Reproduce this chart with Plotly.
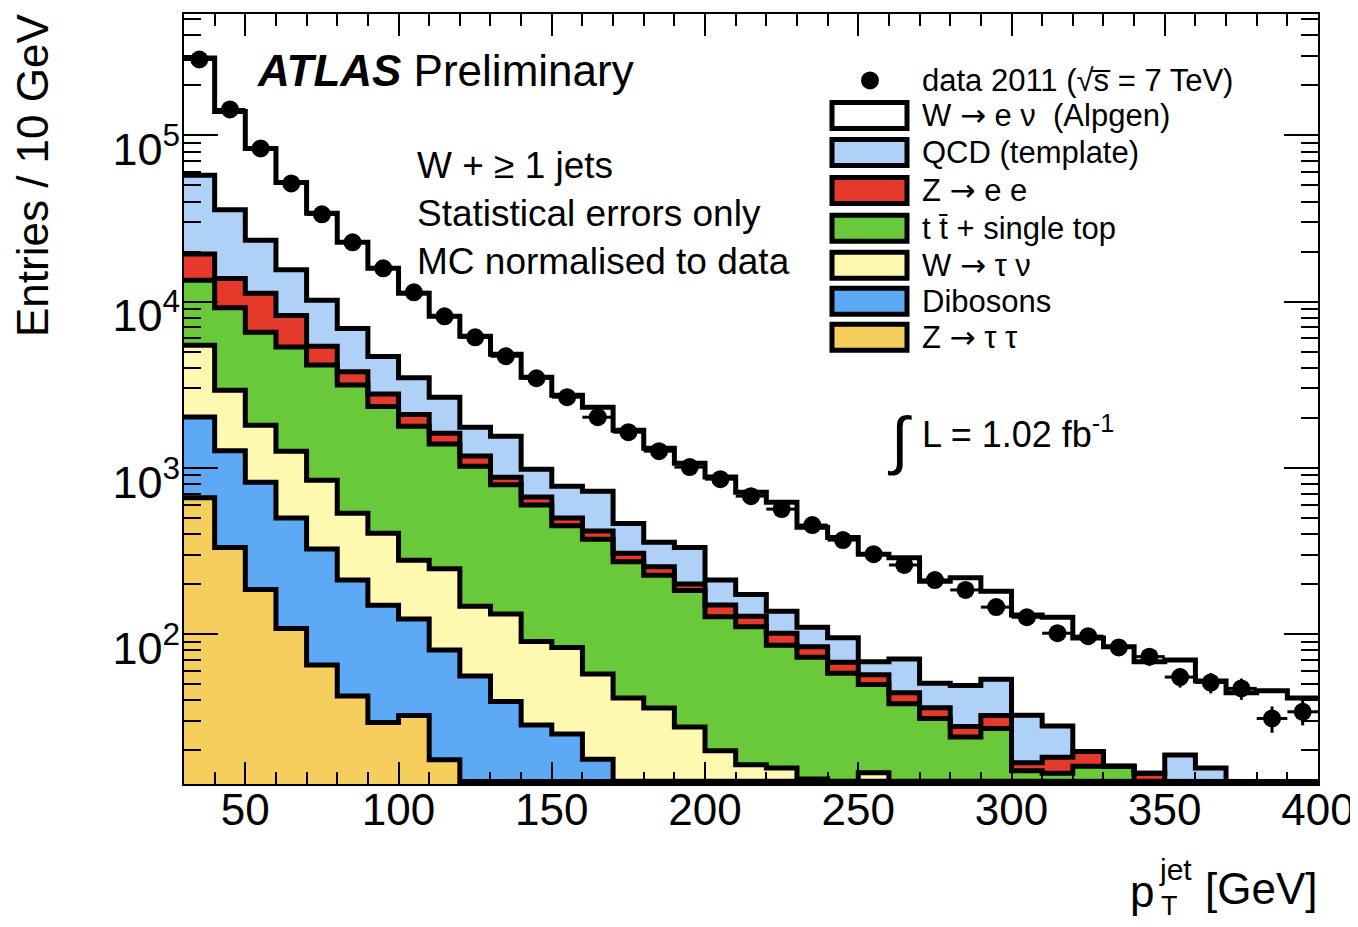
import numpy as np
import plotly.graph_objects as go

# ---------------- data ----------------
bin_edges = list(range(30, 401, 10))          # p_T^jet bin edges [GeV]

z_tautau = [661, 331, 185, 108, 65, 42.3, 29.3, 32.3, 17.5, 10, 8, 6, 5, 4, 3, 2, 2, 1, 1, 1,
            0.5, 0.5, 0.5, 0.5, 0.3, 0.3, 0.3, 0.3, 0.3, 0.3, 0.3, 0.3, 0.2, 0.2, 0.2, 0.2, 0.2]
dibosons = [1362, 936, 634, 390, 259, 168.7, 119.7, 90.7, 62.5, 45.8, 31.2, 22.3, 20, 13.6, 10, 8, 6, 5,
            4, 3, 2.5, 2, 1.5, 1.5, 1.2, 1.2, 1.2, 0.9, 0.9, 0.9, 0.7, 0.7, 0.8, 0.8, 0.6, 0.6, 0.6]
w_taunu = [3437, 1663, 985, 761, 518, 322, 255, 155, 167, 91.2, 92.6, 61.7, 57.8, 39.8, 28.2, 25.8, 19.5,
           13.8, 11.3, 11.6, 10.4, 7.5, 12.6, 8, 7.5, 6.5, 6.5, 3.8, 3.8, 3.8, 4, 2, 2, 1, 1.2, 1.2, 1.2]
ttbar_single_top = [7970, 6250, 4731, 4066, 3313, 2614, 1936, 1500, 1143, 876, 659, 506, 365, 314, 231,
                    190, 155, 107, 94, 70, 59, 48, 35, 28, 22, 16, 19, 10, 9.5, 11, 11, 6, 5, 4, 2, 1, 1]
z_ee = [5900, 4590, 4675, 2935, 1230, 630, 442, 315, 225, 155, 87, 71, 50, 45, 34, 28, 17, 22.6, 17.3,
        15.4, 11.4, 9.6, 7.3, 6.3, 4.9, 3.7, 5.3, 1.8, 3.6, 3.6, 0, 5.5, 2, 2, 2, 2, 1]
qcd_template = [38170, 21880, 12160, 7270, 4795, 3103, 1888, 1387, 1045, 576, 671, 314, 277, 307, 155,
                103, 131.5, 62, 45.3, 36.1, 26, 27.3, 11.2, 26.4, 14.6, 21.2, 21.1, 15.6, 9.8, 0, 0, 0,
                8.7, 7.6, 2, 2, 2]
w_enu = [234500, 103750, 60130, 36620, 23780, 15860, 11180, 7730, 5500, 4426, 3271, 2529, 1960, 1590,
         1222, 955, 735, 667, 540, 484, 329, 285, 234, 217, 157, 169, 127, 97.5, 98, 75, 67.6, 53.6,
         51, 36.5, 36.3, 38.5, 35.2]
data_2011 = [286400, 143300, 83500, 51450, 33500, 22740, 15850, 11370, 8160, 6100, 4690, 3457, 2660,
             2015, 1637, 1259, 1009, 854, 675, 564, 452, 367, 302, 260, 211, 184, 145, 126, 101, 97,
             83, 73, 55, 51, 47, 31, 34]

x_tickvals = [50, 100, 150, 200, 250, 300, 350, 400]
y_tickvals = [1e2, 1e3, 1e4, 1e5]
y_ticktext = ["10<sup>2</sup>", "10<sup>3</sup>", "10<sup>4</sup>", "10<sup>5</sup>"]

# ---------------- styling ----------------
FONT = "Liberation Sans"
YMIN, YMAX = 12.5, 5.38e5
XMIN, XMAX = bin_edges[0], bin_edges[-1]
PAGE_OFF = 8                      # default body margin of the html page
W, H = 1358 - PAGE_OFF, 927 - PAGE_OFF
L_PX, R_PX, T_PX, B_PX = 184, 1318, 13.5, 784     # wanted plot area in page pixels
ARROW = '<span style="font-family:DejaVu Sans">→</span>'

samples = [  # drawn top of stack first
    (f"W {ARROW} e ν  (Alpgen)", w_enu, "#FFFFFF"),
    ("QCD (template)", qcd_template, "#AFD1F7"),
    (f"Z {ARROW} e e", z_ee, "#E4392B"),
    ("t t̄ + single top", ttbar_single_top, "#6AC83B"),
    (f"W {ARROW} τ ν", w_taunu, "#FFF8B0"),
    ("Dibosons", dibosons, "#5DA9F6"),
    (f"Z {ARROW} τ τ", z_tautau, "#F6CE5E"),
]

edges = np.array(bin_edges, dtype=float)
centers = 0.5 * (edges[:-1] + edges[1:])
half_w = 0.5 * np.diff(edges)

cum = np.zeros(len(centers))
tops = []
for name, vals, col in samples[::-1]:
    cum = cum + np.array(vals, dtype=float)
    tops.append((name, cum.copy(), col))
tops = tops[::-1]

step_x = np.repeat(edges, 2)[1:-1]
FLOOR = 1.0

fig = go.Figure()
for name, top, col in tops:
    sy = np.repeat(top, 2)
    fig.add_trace(go.Scatter(
        x=np.concatenate([[edges[0]], step_x, [edges[-1]]]),
        y=np.concatenate([[FLOOR], sy, [FLOOR]]),
        fill="toself", fillcolor=col, mode="none", hoverinfo="skip", showlegend=False))
for name, top, col in tops:
    sy = np.maximum(np.repeat(top, 2), YMIN * 1.035)
    fig.add_trace(go.Scatter(x=step_x, y=sy, mode="lines",
                             line=dict(color="black", width=5), hoverinfo="skip", showlegend=False))
dvals = np.array(data_2011, dtype=float)
fig.add_trace(go.Scatter(
    x=centers, y=dvals, mode="markers",
    marker=dict(color="black", size=18),
    error_y=dict(type="data", array=np.sqrt(dvals), color="black", thickness=3, width=0),
    error_x=dict(type="data", array=half_w, color="black", thickness=3, width=0),
    showlegend=False, name="data 2011"))

y_minor = [m * 10 ** e for e in range(1, 6) for m in range(2, 10) if YMIN <= m * 10 ** e <= YMAX]

fig.update_layout(
    width=W, height=H,
    margin=dict(l=L_PX - PAGE_OFF, r=W - (R_PX - PAGE_OFF), t=T_PX - PAGE_OFF,
                b=H - (B_PX - PAGE_OFF), pad=0, autoexpand=False),
    paper_bgcolor="white", plot_bgcolor="white",
    font=dict(family=FONT, color="black"),
    showlegend=False,
)
fig.update_xaxes(
    range=[XMIN, XMAX], showgrid=False, zeroline=False, automargin=False,
    showline=True, linecolor="black", linewidth=2, mirror="allticks",
    ticks="inside", ticklen=22, tickwidth=2, tickcolor="black",
    tickvals=x_tickvals, tickfont=dict(size=44, family=FONT), ticklabelstandoff=-14,
    minor=dict(dtick=10, tick0=0, ticks="inside", ticklen=12, tickwidth=2, tickcolor="black", showgrid=False),
)
fig.update_yaxes(
    type="log", range=[np.log10(YMIN), np.log10(YMAX)], showgrid=False, zeroline=False, automargin=False,
    showline=True, linecolor="black", linewidth=2, mirror="allticks",
    ticks="inside", ticklen=34, tickwidth=2, tickcolor="black",
    tickvals=y_tickvals, ticktext=y_ticktext, tickfont=dict(size=45, family=FONT),
    ticklabelshift=14, ticklabelstandoff=-7,
    minor=dict(tickvals=y_minor, ticks="inside", ticklen=17, tickwidth=2, tickcolor="black", showgrid=False),
)

def px(x):
    return (x - L_PX) / (R_PX - L_PX)

def py(y):
    return (B_PX - y) / (B_PX - T_PX)

ann = []
def text(t, x, y, size, xanchor="left", yanchor="middle", angle=0):
    ann.append(dict(text=t, x=px(x), y=py(y), xref="paper", yref="paper", showarrow=False,
                    xanchor=xanchor, yanchor=yanchor, textangle=angle,
                    font=dict(size=size, family=FONT, color="black")))

text("<b><i>ATLAS</i></b> Preliminary", 255, 70, 44)
text("W + ≥ 1 jets", 415, 165, 37)
text("Statistical errors only", 415, 213, 37)
text("MC normalised to data", 415, 261, 37)
text("∫", 899, 440, 64, xanchor="center")
text("L = 1.02 fb<sup>-1</sup>", 920, 432, 36)
text("Entries / 10 GeV", 32, 12, 44, xanchor="center", yanchor="top", angle=-90)
text("p", 1128, 892, 44)
text("jet", 1157, 870, 30)
text("T", 1159, 906, 27)
text("[GeV]", 1203, 889, 44)

leg_rows_y = [80, 115, 152, 190, 228, 265, 301, 337]
labels = ["data 2011 (√s̅ = 7 TeV)"] + [s[0] for s in samples]
shapes = []
for i, (lab, ry) in enumerate(zip(labels, leg_rows_y)):
    text(lab, 920, ry, 31)
    if i == 0:
        shapes.append(dict(type="circle", xref="paper", yref="paper",
                           x0=px(861), x1=px(879), y0=py(ry + 9), y1=py(ry - 9),
                           fillcolor="black", line=dict(color="black", width=0)))
    else:
        col = samples[i - 1][2]
        shapes.append(dict(type="rect", xref="paper", yref="paper",
                           x0=px(832), x1=px(907), y0=py(ry + 13), y1=py(ry - 13),
                           fillcolor=col, line=dict(color="black", width=5)))

fig.update_layout(annotations=ann, shapes=shapes)
fig.write_html("out.html")
